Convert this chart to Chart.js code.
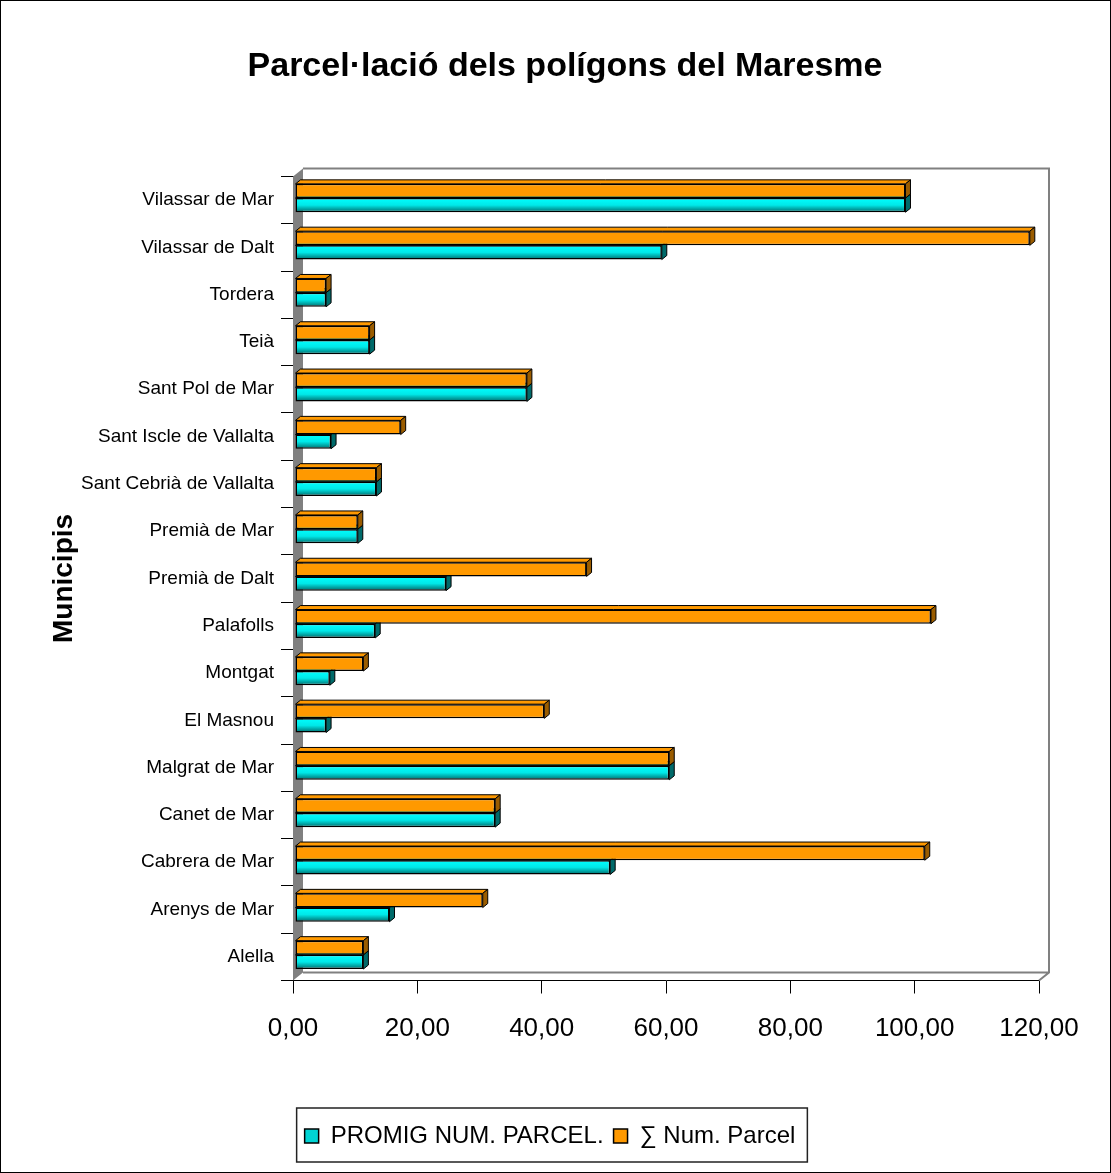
<!DOCTYPE html>
<html>
<head>
<meta charset="utf-8">
<title>Parcel·lació dels polígons del Maresme</title>
<script src="https://cdn.jsdelivr.net/npm/chart.js@4.4.0/dist/chart.umd.min.js"></script>
<style>
  html, body { margin: 0; padding: 0; background: #fff; }
  #wrap { width: 1111px; height: 1173px; }
</style>
</head>
<body>
<div id="wrap"><canvas id="myChart" width="1111" height="1173"></canvas></div>
<script>
// values
const municipis = ['Vilassar de Mar', 'Vilassar de Dalt', 'Tordera', 'Teià', 'Sant Pol de Mar',
    'Sant Iscle de Vallalta', 'Sant Cebrià de Vallalta', 'Premià de Mar', 'Premià de Dalt', 'Palafolls',
    'Montgat', 'El Masnou', 'Malgrat de Mar', 'Canet de Mar', 'Cabrera de Mar', 'Arenys de Mar', 'Alella'];
const promig = [98.2, 59.0, 5.0, 12.0, 37.3, 5.8, 13.1, 10.1, 24.3, 12.9, 5.6, 5.0, 60.2, 32.2, 50.7, 15.2, 11.0];
const sumParcel = [98.2, 118.2, 5.0, 12.0, 37.3, 17.0, 13.1, 10.1, 46.9, 102.3, 11.0, 40.1, 60.2, 32.2, 101.3, 30.2, 11.0];
const xTicks = [0, 20, 40, 60, 80, 100, 120];

const FONT = "'Liberation Sans', Arial, sans-serif";
const CAT_PCT = 0.6;
// 3D look
const DX = 5, DY = -4;          // bar depth
const WX = 10, WY = -8;         // wall depth
const SHIFT_X = 2, SHIFT_Y = -2; // bars sit a bit behind the front plane

const ctx = document.getElementById('myChart');

const cyanFill = (c) => {
    const chart = c.chart;
    const y = chart.scales && chart.scales.y;
    if (c.type !== 'data' || !chart.chartArea || !y) return '#00e0e0';
    const p0 = y.getPixelForValue(c.dataIndex);
    const step = Math.abs(y.getPixelForValue(1) - y.getPixelForValue(0));
    const h = step * CAT_PCT / 2;
    const g = chart.ctx.createLinearGradient(0, p0, 0, p0 + h);
    g.addColorStop(0, '#00ffff');
    g.addColorStop(0.5, '#00e8e8');
    g.addColorStop(1, '#006a6a');
    return g;
};

const poly = (c, pts, fill) => {
    c.beginPath();
    c.moveTo(pts[0][0], pts[0][1]);
    for (let i = 1; i < pts.length; i++) c.lineTo(pts[i][0], pts[i][1]);
    c.closePath();
    c.fillStyle = fill;
    c.fill();
    c.stroke();
};

const excelLook = {
    id: 'excelLook',
    afterLayout(chart) {
        // the original centres title and legend on the whole sheet, not on the plot
        if (chart.titleBlock) {
            chart.titleBlock.left = 19;
            chart.titleBlock.right = chart.width;
        }
        if (chart.legend) {
            chart.legend.left = -11;
            chart.legend.right = chart.width;
        }
    },
    beforeDatasetsDraw(chart) {
        const { ctx: c, chartArea: a, scales: { x } } = chart;
        const l = x.getPixelForValue(0), r = x.getPixelForValue(120);
        const t = a.top, b = a.bottom;
        c.save();
        // back wall + floor edges
        c.strokeStyle = '#808080';
        c.lineWidth = 2;
        c.beginPath();
        c.moveTo(l + WX, t + WY);
        c.lineTo(r + WX, t + WY);
        c.lineTo(r + WX, b + WY);
        c.lineTo(r, b);
        c.moveTo(l + WX, b + WY);
        c.lineTo(r + WX, b + WY);
        c.stroke();
        // side wall
        c.fillStyle = '#808080';
        c.beginPath();
        c.moveTo(l, t);
        c.lineTo(l + WX, t + WY);
        c.lineTo(l + WX, b + WY);
        c.lineTo(l, b);
        c.closePath();
        c.fill();
        c.restore();

        // top and side faces of the bars
        c.save();
        c.translate(SHIFT_X, SHIFT_Y);
        c.strokeStyle = '#000';
        c.lineWidth = 1;
        c.lineJoin = 'round';
        for (let i = chart.data.datasets.length - 1; i >= 0; i--) {
            const ds = chart.data.datasets[i];
            chart.getDatasetMeta(i).data.forEach(bar => {
                const p = bar.getProps(['x', 'y', 'base', 'height'], true);
                const top = p.y - p.height / 2, bot = p.y + p.height / 2;
                poly(c, [[p.base, top], [p.base + DX, top + DY], [p.x + DX, top + DY], [p.x, top]], ds.topColor);
                poly(c, [[p.x, top], [p.x + DX, top + DY], [p.x + DX, bot + DY], [p.x, bot]], ds.sideColor);
            });
        }
        // keep the shift for the front faces
    },
    afterDatasetsDraw(chart) {
        chart.ctx.restore();
    },
    afterDraw(chart) {
        const c = chart.ctx;
        const lg = chart.legend;
        c.save();
        if (lg && lg.legendHitBoxes && lg.legendHitBoxes.length) {
            let minX = Infinity, maxX = -Infinity;
            lg.legendHitBoxes.forEach(h => {
                minX = Math.min(minX, h.left);
                maxX = Math.max(maxX, h.left + h.width);
            });
            c.strokeStyle = '#222';
            c.lineWidth = 1.5;
            c.strokeRect(minX - 8, lg.top - 6, maxX - minX + 20, lg.height + 10);
        }
        c.strokeStyle = '#000';
        c.lineWidth = 1;
        c.strokeRect(0.5, 0.5, chart.width - 1, chart.height - 1);
        c.restore();
    }
};

const legendFill = ['#ff9900', '#00d4d4'];

new Chart(ctx, {
    type: 'bar',
    data: {
        labels: municipis,
        datasets: [
            {
                label: '∑ Num. Parcel',
                data: sumParcel,
                backgroundColor: '#ff9900',
                topColor: '#ff9900',
                sideColor: '#9a5c00',
                borderColor: '#000',
                borderWidth: 1.5,
                borderSkipped: false,
                categoryPercentage: CAT_PCT,
                barPercentage: 1.0
            },
            {
                label: 'PROMIG NUM. PARCEL.',
                data: promig,
                backgroundColor: cyanFill,
                topColor: '#00e8e8',
                sideColor: '#006a6a',
                borderColor: '#000',
                borderWidth: 1.5,
                borderSkipped: false,
                categoryPercentage: CAT_PCT,
                barPercentage: 1.0
            }
        ]
    },
    options: {
        indexAxis: 'y',
        responsive: false,
        devicePixelRatio: 1,
        animation: false,
        layout: { padding: { left: 0, right: 72, top: 0, bottom: 15 } },
        scales: {
            x: {
                type: 'linear',
                min: 0,
                max: 120,
                z: 1,
                afterBuildTicks: (s) => { s.ticks = xTicks.map(v => ({ value: v })); },
                afterFit: (s) => { s.height = 133.5; },
                grid: { drawOnChartArea: false, tickLength: 13, color: '#000', lineWidth: 1 },
                border: { color: '#000', width: 1 },
                ticks: {
                    color: '#000',
                    padding: 20,
                    font: { family: FONT, size: 26 },
                    callback: (v) => Number(v).toFixed(2).replace('.', ',')
                }
            },
            y: {
                type: 'category',
                z: 1,
                afterFit: (s) => { s.width = 293; },
                grid: { drawOnChartArea: false, offset: true, tickLength: 12, color: '#000', lineWidth: 1 },
                border: { color: '#000', width: 1 },
                ticks: { color: '#000', padding: 7, font: { family: FONT, size: 19 } },
                title: {
                    display: true,
                    text: 'Municipis',
                    color: '#000',
                    padding: { top: 47, bottom: 0 },
                    font: { family: FONT, size: 28, weight: 'bold' }
                }
            }
        },
        plugins: {
            title: {
                display: true,
                text: 'Parcel·lació dels polígons del Maresme',
                color: '#000',
                padding: { top: 46, bottom: 89.6 },
                font: { family: FONT, size: 34, weight: 'bold' }
            },
            legend: {
                position: 'bottom',
                labels: {
                    color: '#000',
                    boxWidth: 14,
                    boxHeight: 14,
                    padding: 10,
                    font: { family: FONT, size: 24 },
                    generateLabels: (chart) => [1, 0].map(i => ({
                        text: chart.data.datasets[i].label,
                        fillStyle: legendFill[i],
                        strokeStyle: '#000',
                        lineWidth: 1.5,
                        fontColor: '#000',
                        datasetIndex: i,
                        hidden: !chart.isDatasetVisible(i)
                    }))
                }
            },
            tooltip: { enabled: false }
        }
    },
    plugins: [excelLook]
});
</script>
</body>
</html>
